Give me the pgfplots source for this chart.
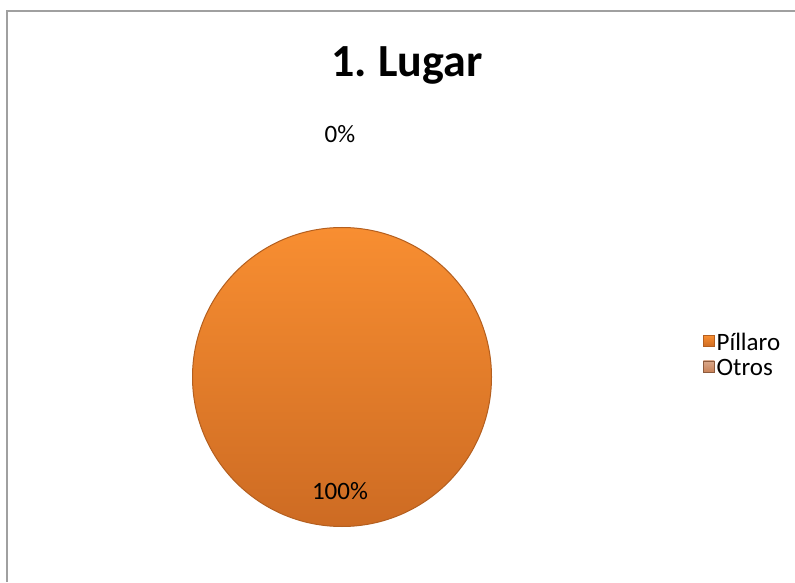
\documentclass[border=0pt]{standalone}
\usepackage{pgfplots}
\pgfplotsset{compat=1.18}
\usepackage{fontspec}
\setmainfont{Carlito}
\definecolor{pietop}{HTML}{F88E31}
\definecolor{piebot}{HTML}{CD6B23}
\definecolor{pierim}{HTML}{B45F1F}
\definecolor{otros}{HTML}{C98258}
\definecolor{frame}{HTML}{A0A0A0}
\begin{document}
\begin{tikzpicture}[x=1pt,y=1pt]
\useasboundingbox (0,0) rectangle (795,582);
\begin{axis}[
  at={(0,0)}, anchor=south west,
  scale only axis, width=795pt, height=582pt,
  xmin=0, xmax=795, ymin=0, ymax=582,
  axis lines=none, clip=false,
  legend style={at={(axis cs:700,227)}, anchor=west, draw=none, fill=none,
    font=\fontsize{25}{30}\selectfont, row sep=3pt,
    legend cell align=left},
  legend image code/.code={\draw[line width=0.4pt,#1] (0pt,-4pt) rectangle (11pt,7pt);},
]
% Píllaro: 100 %  -> full pie
\addplot[draw=none, mark=none, forget plot,
  nodes near coords={},
  every node near coord/.style={circle, anchor=center, inner sep=0pt,
    minimum size=299pt, top color=pietop, bottom color=piebot,
    draw=pierim, line width=1pt}]
  coordinates {(342,205)};
\addlegendimage{top color=pietop, bottom color=piebot, draw=pierim}
\addlegendentry{Píllaro}
\addlegendimage{top color=otros!70!white, bottom color=otros, draw=otros!70!black}
\addlegendentry{Otros}
% value labels
\addplot[draw=none, mark=none, forget plot, point meta=explicit symbolic,
  nodes near coords,
  every node near coord/.style={anchor=base, inner sep=0pt,
    font=\fontsize{25}{30}\selectfont}]
  coordinates {(340,83) [100\%] (340,439) [0\%]};
\end{axis}
\node[anchor=base, font=\fontsize{46}{50}\selectfont\bfseries] at (407,505) {1.\hspace{-3pt} Lugar};
\draw[frame, line width=2pt] (7,0) -- (7,571) -- (795,571);
\end{tikzpicture}
\end{document}
